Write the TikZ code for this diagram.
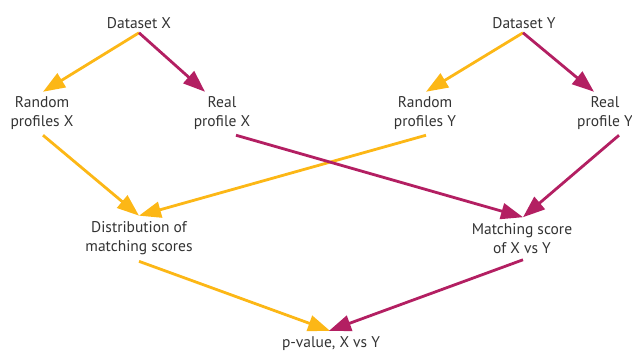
\documentclass[tikz,border=0pt]{standalone}
\usepackage{fontspec}
\setmainfont{PT Sans}
\usetikzlibrary{arrows.meta}
\definecolor{gold}{RGB}{252,183,22}
\definecolor{plum}{RGB}{179,31,98}

\begin{document}
\begin{tikzpicture}[x=1pt,y=-1pt]
    \pgfmathsetmacro{\tipshift}{14}
    \providecommand{\labelfontsize}{\fontsize{15.5pt}{19pt}\selectfont}
    \tikzset{
        lbl/.style={align=center,inner xsep=0,inner ysep=4pt,font=\labelfontsize,text=black!80},
        rnd/.style={draw=gold,line width=2.8pt,-{Triangle[length=22pt,width=16pt]}},
        rl/.style={draw=plum,line width=2.8pt,-{Triangle[length=22pt,width=16pt]}}
    }
    \useasboundingbox (0,0) rectangle (632,353);
    \node[lbl] (dsx) at (139,23) {Dataset X};
    \node[lbl] (dsy) at (524,23) {Dataset Y};
    \node[lbl,inner ysep=5pt] (rdx) at (42,113.5) {Random\\profiles X};
    \node[lbl,inner ysep=5pt] (rlx) at (222,113.5) {Real\\profile X};
    \node[lbl,inner ysep=5pt] (rdy) at (425,113.5) {Random\\profiles Y};
    \node[lbl,inner ysep=5pt] (rly) at (605,113.5) {Real\\profile Y};
    \node[lbl,inner ysep=6pt] (dist) at (139,238.5) {Distribution of\\matching scores};
    \node[lbl,inner ysep=6pt] (msc) at (522,238.5) {Matching score\\of X vs Y};
    \node[lbl,inner ysep=6pt] (pv) at (331,344) {p-value, X vs Y};
    % dataset X
    \draw[rnd] (dsx.south) -- ([xshift=1pt]rdx.north);
    \draw[rl] (dsx.south) -- ([xshift=-17pt]rlx.north);
    % dataset Y
    \draw[rnd] ([xshift=-1pt]dsy.south) -- ([xshift=1pt]rdy.north);
    \draw[rl] ([xshift=-1pt]dsy.south) -- ([xshift=-11pt]rly.north);
    % scores
    \draw[rnd] ([xshift=1pt]rdx.south) -- (dist.north);
    \draw[rnd] ([xshift=1pt]rdy.south) -- (dist.north);
    \draw[rl] ([xshift=\tipshift pt]rlx.south) -- ([xshift=1pt]msc.north);
    \draw[rl] ([xshift=\tipshift pt]rly.south) -- ([xshift=1pt]msc.north);
    % p-value
    \draw[rnd] (dist.south) -- ([xshift=-1pt]pv.north);
    \draw[rl] ([xshift=1pt]msc.south) -- ([xshift=-2pt]pv.north);
\end{tikzpicture}
\end{document}
